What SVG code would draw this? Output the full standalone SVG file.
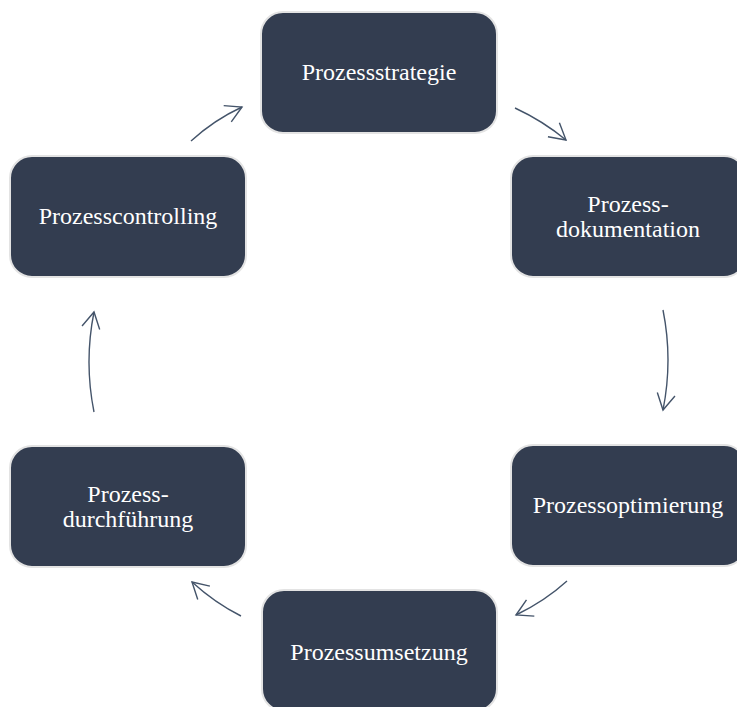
<svg xmlns="http://www.w3.org/2000/svg" width="737" height="707" viewBox="0 0 737 707">
<style>
.node{fill:#333d50;stroke:#e3e3e3;stroke-width:2}
.lbl{font-family:"Liberation Serif","Times New Roman",serif;font-size:24px;fill:#ffffff;text-anchor:middle}
.conn{fill:none;stroke:#44546a;stroke-width:1.4}
</style>
<defs>
<marker id="ah" markerUnits="userSpaceOnUse" markerWidth="40" markerHeight="40" refX="0" refY="0" viewBox="-20 -20 40 40" orient="auto" overflow="visible">
<path d="M-16,-9 L0,0 L-16,9" fill="none" stroke="#44546a" stroke-width="1.4"/>
</marker>
</defs>
<rect width="737" height="707" fill="#ffffff"/>
<g id="connectors">
<path class="conn" d="M515,108 Q543,121 566,140" marker-end="url(#ah)"/>
<path class="conn" d="M663,310 Q673,360 663,410" marker-end="url(#ah)"/>
<path class="conn" d="M567,581 Q545,601 516,615" marker-end="url(#ah)"/>
<path class="conn" d="M241,616 Q215,603 192,582" marker-end="url(#ah)"/>
<path class="conn" d="M94,412 Q84,362 94,312" marker-end="url(#ah)"/>
<path class="conn" d="M191,141 Q214,120 242,107" marker-end="url(#ah)"/>
</g>
<g id="n1"><rect class="node" x="261" y="12" width="236" height="121" rx="22"/><text class="lbl" x="379" y="80">Prozessstrategie</text></g>
<g id="n2"><rect class="node" x="511" y="156" width="235" height="121" rx="22"/><text class="lbl" x="628" y="212">Prozess-</text><text class="lbl" x="628" y="237">dokumentation</text></g>
<g id="n3"><rect class="node" x="511" y="445" width="235" height="121" rx="22"/><text class="lbl" x="628" y="513">Prozessoptimierung</text></g>
<g id="n4"><rect class="node" x="262" y="590" width="235" height="121" rx="22"/><text class="lbl" x="379" y="660">Prozessumsetzung</text></g>
<g id="n5"><rect class="node" x="10" y="446" width="236" height="121" rx="22"/><text class="lbl" x="128" y="502">Prozess-</text><text class="lbl" x="128" y="527">durchführung</text></g>
<g id="n6"><rect class="node" x="10" y="156" width="236" height="121" rx="22"/><text class="lbl" x="128" y="224">Prozesscontrolling</text></g>
</svg>
